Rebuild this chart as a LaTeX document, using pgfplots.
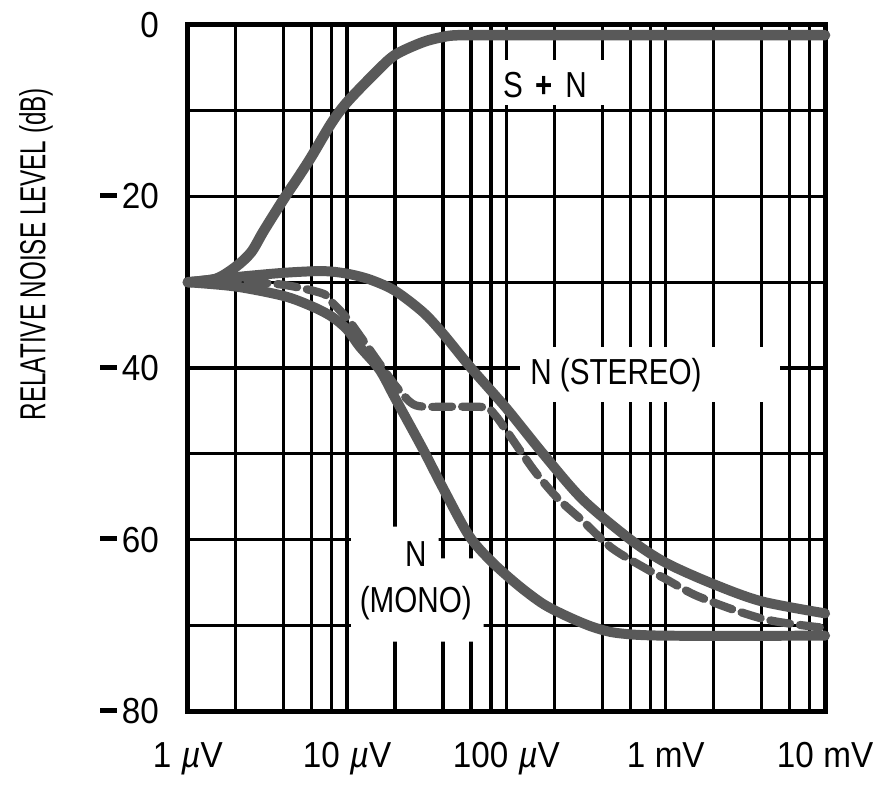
\documentclass[border=0pt]{standalone}
\usepackage{fontspec}
\setmainfont{Liberation Sans}[FakeStretch=0.82]
\newfontfamily\tickfont{Liberation Sans}[FakeStretch=0.92]
\newfontfamily\labfont{Liberation Sans}[FakeStretch=0.67]
\usepackage{pgfplots}
\pgfplotsset{compat=1.18}
\definecolor{curve}{gray}{0.35}
\newcommand\mdash{\rule[4.4pt]{6.6pt}{2pt}\hspace{2pt}}
\newcommand\uV{\hspace{0.28em}{\itshape µ}V}
\newcommand\mV{\hspace{0.26em}mV}
\begin{document}
\fontsize{14.5}{17}\selectfont
\begin{tikzpicture}
\begin{axis}[
  name=ax,
  scale only axis,
  width=255.6pt, height=275.2pt,
  xmode=log, xmin=1, xmax=10000,
  ymin=-80, ymax=0,
  xtick={1,10,100,1000,10000},
  xticklabels={1\uV, 10\uV, 100\uV, 1\mV, 10\mV},
  minor xtick={2,4,6,8,20,40,60,80,200,400,600,800,2000,4000,6000,8000},
  ytick={-80,-60,-40,-20,0},
  yticklabels={{\mdash80},{\mdash60},{\mdash40},{\mdash20},{0}},
  minor ytick={-70,-50,-30,-10},
  grid=both,
  major grid style={black, line width=1.3pt},
  minor grid style={black, line width=1.3pt},
  major tick length=0pt, minor tick length=0pt,
  axis line style={black, line width=2pt},
  yticklabel style={xshift=-6.6pt, font=\tickfont\fontsize{14.5}{17}\selectfont},
  xticklabel style={yshift=-7.6pt, font=\tickfont\fontsize{14.5}{17}\selectfont},
  ylabel={RELATIVE NOISE LEVEL (dB)},
  every axis y label/.style={at={(axis description cs:0,0.666)}, xshift=-60.9pt, rotate=90, anchor=center, font=\labfont\fontsize{14.5}{17}\selectfont},
  clip=false,
]
% white boxes behind the curve labels
\fill[white] (axis cs:84.7,-4.07) rectangle (axis cs:516,-9.3);
\fill[white] (axis cs:121.6,-37.56) rectangle (axis cs:5215,-43.95);
\fill[white] (axis cs:10.6,-58.5) -- (axis cs:37.6,-58.5) -- (axis cs:37.6,-62.2) -- (axis cs:71.8,-62.2) -- (axis cs:71.8,-71.9) -- (axis cs:10.6,-71.9) -- cycle;
\node[inner sep=0pt] at (axis cs:174.6,-7.0) {S\hspace{0.35em}{\Large\bfseries +}\hspace{0.35em}N};
\node[inner sep=0pt] at (axis cs:487,-40.8) {N (STEREO)};
\node[inner sep=0pt] at (axis cs:27,-61.7) {N};
\node[inner sep=0pt] at (axis cs:27,-67.4) {(MONO)};
% S + N
\addplot[curve, line width=4.2pt, smooth, line cap=round] coordinates {
(1,-30) (1.5,-29.6) (2,-28.2) (2.5,-26.5) (3,-24) (4,-20.3) (5,-17.6) (6,-15.3) (8,-11.4) (10,-9) (15,-5.6) (20,-3.5) (30,-2) (40,-1.4) (50,-1.2) (100,-1.2) (1000,-1.2) (10000,-1.2)
};
% N (STEREO)
\addplot[curve, line width=4pt, smooth, line cap=round] coordinates {
(1,-30) (2,-29.4) (4,-28.9) (7,-28.7) (10,-29) (14,-29.7) (20,-31) (30,-33.5) (40,-36) (60,-40) (100,-44.7) (170,-50) (300,-55.3) (600,-60) (1000,-62.7) (2000,-65.2) (4000,-67.2) (10000,-68.6)
};
% N (MONO)
\addplot[curve, line width=4pt, smooth, line cap=round] coordinates {
(1,-30) (2,-30.5) (4,-31.6) (6,-32.8) (8,-34) (10,-35.5) (12,-37.5) (16,-40.2) (20,-43.5) (30,-49.5) (40,-54) (58,-59.5) (80,-62.5) (118,-65.3) (170,-67.5) (244,-69) (350,-70.2) (500,-70.9) (1000,-71.2) (10000,-71.2)
};
% dashed
\addplot[curve, line width=3.3pt, smooth, line cap=round, dash pattern=on 8pt off 4pt] coordinates {
(1,-30) (2,-29.9) (4,-30.3) (7,-31.3) (8,-32.3) (10,-34.2) (12,-36.2) (16,-39.5) (20,-42) (25,-44) (30,-44.5) (50,-44.5) (74,-44.6) (85,-45.5) (100,-47.3) (150,-52) (210,-55.2) (300,-57.8) (460,-61) (770,-63.5) (1000,-64.6) (1500,-66.4) (2500,-68) (4000,-69.2) (6000,-69.8) (10000,-70.3)
};
\end{axis}
\pgfresetboundingbox
\path[use as bounding box] ([xshift=-75.3pt,yshift=-31.25pt]ax.south west) rectangle ([xshift=19.2pt,yshift=10pt]ax.north east);
\end{tikzpicture}
\end{document}
